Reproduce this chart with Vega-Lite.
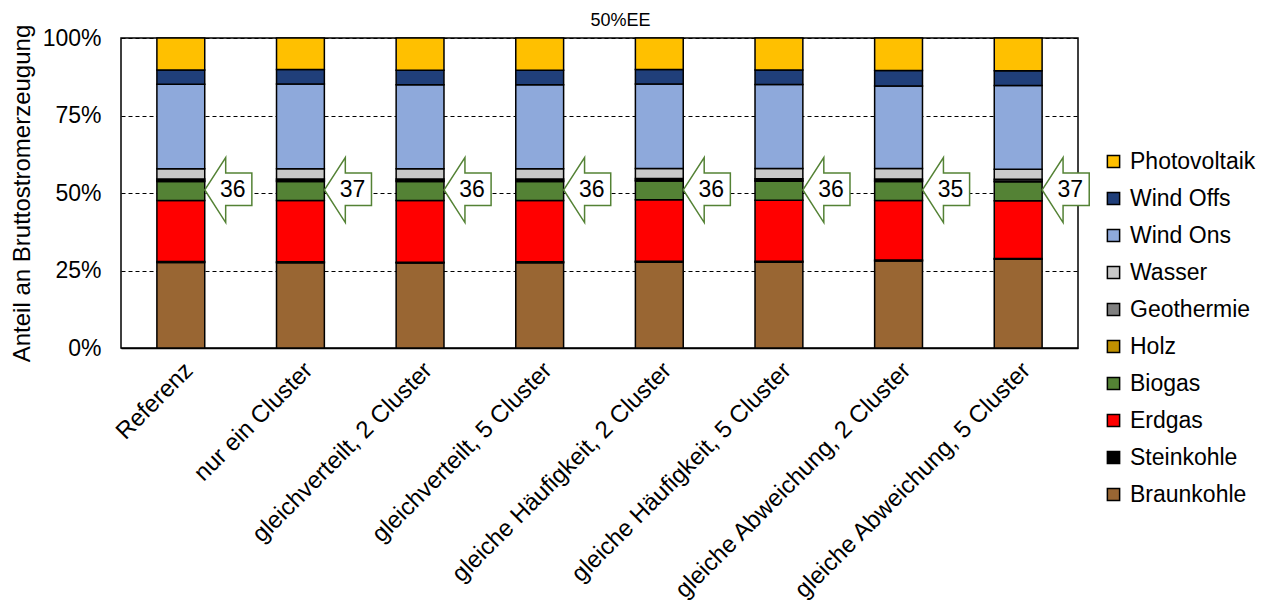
{
  "$schema": "https://vega.github.io/schema/vega-lite/v6.json",
  "width": 957,
  "height": 310,
  "autosize": {"type": "none"},
  "padding": {"left": 121, "top": 38, "right": 193, "bottom": 264},
  "background": "#ffffff",
  "title": {"text": "50%EE", "fontSize": 18, "fontWeight": "normal", "font": "Liberation Sans", "color": "#000000", "offset": 0, "dy": 6, "dx": 21},
  "config": {
    "view": {"stroke": "#000000", "strokeWidth": 1.5},
    "font": "Liberation Sans"
  },
  "datasets": {
    "mix": [
      {"szenario": "Referenz", "traeger": "Braunkohle", "anteil": 27.6, "rang": 1},
      {"szenario": "Referenz", "traeger": "Steinkohle", "anteil": 0.3, "rang": 2},
      {"szenario": "Referenz", "traeger": "Erdgas", "anteil": 19.7, "rang": 3},
      {"szenario": "Referenz", "traeger": "Biogas", "anteil": 6.1, "rang": 4},
      {"szenario": "Referenz", "traeger": "Holz", "anteil": 0.3, "rang": 5},
      {"szenario": "Referenz", "traeger": "Geothermie", "anteil": 0.5, "rang": 6},
      {"szenario": "Referenz", "traeger": "Wasser", "anteil": 3.3, "rang": 7},
      {"szenario": "Referenz", "traeger": "Wind Ons", "anteil": 27.3, "rang": 8},
      {"szenario": "Referenz", "traeger": "Wind Offs", "anteil": 4.6, "rang": 9},
      {"szenario": "Referenz", "traeger": "Photovoltaik", "anteil": 10.3, "rang": 10},

      {"szenario": "nur ein Cluster", "traeger": "Braunkohle", "anteil": 27.5, "rang": 1},
      {"szenario": "nur ein Cluster", "traeger": "Steinkohle", "anteil": 0.3, "rang": 2},
      {"szenario": "nur ein Cluster", "traeger": "Erdgas", "anteil": 19.8, "rang": 3},
      {"szenario": "nur ein Cluster", "traeger": "Biogas", "anteil": 6.1, "rang": 4},
      {"szenario": "nur ein Cluster", "traeger": "Holz", "anteil": 0.3, "rang": 5},
      {"szenario": "nur ein Cluster", "traeger": "Geothermie", "anteil": 0.5, "rang": 6},
      {"szenario": "nur ein Cluster", "traeger": "Wasser", "anteil": 3.3, "rang": 7},
      {"szenario": "nur ein Cluster", "traeger": "Wind Ons", "anteil": 27.4, "rang": 8},
      {"szenario": "nur ein Cluster", "traeger": "Wind Offs", "anteil": 4.6, "rang": 9},
      {"szenario": "nur ein Cluster", "traeger": "Photovoltaik", "anteil": 10.2, "rang": 10},

      {"szenario": "gleichverteilt, 2 Cluster", "traeger": "Braunkohle", "anteil": 27.4, "rang": 1},
      {"szenario": "gleichverteilt, 2 Cluster", "traeger": "Steinkohle", "anteil": 0.3, "rang": 2},
      {"szenario": "gleichverteilt, 2 Cluster", "traeger": "Erdgas", "anteil": 19.9, "rang": 3},
      {"szenario": "gleichverteilt, 2 Cluster", "traeger": "Biogas", "anteil": 6.1, "rang": 4},
      {"szenario": "gleichverteilt, 2 Cluster", "traeger": "Holz", "anteil": 0.3, "rang": 5},
      {"szenario": "gleichverteilt, 2 Cluster", "traeger": "Geothermie", "anteil": 0.5, "rang": 6},
      {"szenario": "gleichverteilt, 2 Cluster", "traeger": "Wasser", "anteil": 3.3, "rang": 7},
      {"szenario": "gleichverteilt, 2 Cluster", "traeger": "Wind Ons", "anteil": 27.1, "rang": 8},
      {"szenario": "gleichverteilt, 2 Cluster", "traeger": "Wind Offs", "anteil": 4.7, "rang": 9},
      {"szenario": "gleichverteilt, 2 Cluster", "traeger": "Photovoltaik", "anteil": 10.4, "rang": 10},

      {"szenario": "gleichverteilt, 5 Cluster", "traeger": "Braunkohle", "anteil": 27.5, "rang": 1},
      {"szenario": "gleichverteilt, 5 Cluster", "traeger": "Steinkohle", "anteil": 0.3, "rang": 2},
      {"szenario": "gleichverteilt, 5 Cluster", "traeger": "Erdgas", "anteil": 19.8, "rang": 3},
      {"szenario": "gleichverteilt, 5 Cluster", "traeger": "Biogas", "anteil": 6.1, "rang": 4},
      {"szenario": "gleichverteilt, 5 Cluster", "traeger": "Holz", "anteil": 0.3, "rang": 5},
      {"szenario": "gleichverteilt, 5 Cluster", "traeger": "Geothermie", "anteil": 0.5, "rang": 6},
      {"szenario": "gleichverteilt, 5 Cluster", "traeger": "Wasser", "anteil": 3.3, "rang": 7},
      {"szenario": "gleichverteilt, 5 Cluster", "traeger": "Wind Ons", "anteil": 27.1, "rang": 8},
      {"szenario": "gleichverteilt, 5 Cluster", "traeger": "Wind Offs", "anteil": 4.7, "rang": 9},
      {"szenario": "gleichverteilt, 5 Cluster", "traeger": "Photovoltaik", "anteil": 10.4, "rang": 10},

      {"szenario": "gleiche Häufigkeit, 2 Cluster", "traeger": "Braunkohle", "anteil": 27.7, "rang": 1},
      {"szenario": "gleiche Häufigkeit, 2 Cluster", "traeger": "Steinkohle", "anteil": 0.3, "rang": 2},
      {"szenario": "gleiche Häufigkeit, 2 Cluster", "traeger": "Erdgas", "anteil": 19.8, "rang": 3},
      {"szenario": "gleiche Häufigkeit, 2 Cluster", "traeger": "Biogas", "anteil": 6.1, "rang": 4},
      {"szenario": "gleiche Häufigkeit, 2 Cluster", "traeger": "Holz", "anteil": 0.3, "rang": 5},
      {"szenario": "gleiche Häufigkeit, 2 Cluster", "traeger": "Geothermie", "anteil": 0.5, "rang": 6},
      {"szenario": "gleiche Häufigkeit, 2 Cluster", "traeger": "Wasser", "anteil": 3.2, "rang": 7},
      {"szenario": "gleiche Häufigkeit, 2 Cluster", "traeger": "Wind Ons", "anteil": 27.3, "rang": 8},
      {"szenario": "gleiche Häufigkeit, 2 Cluster", "traeger": "Wind Offs", "anteil": 4.6, "rang": 9},
      {"szenario": "gleiche Häufigkeit, 2 Cluster", "traeger": "Photovoltaik", "anteil": 10.2, "rang": 10},

      {"szenario": "gleiche Häufigkeit, 5 Cluster", "traeger": "Braunkohle", "anteil": 27.7, "rang": 1},
      {"szenario": "gleiche Häufigkeit, 5 Cluster", "traeger": "Steinkohle", "anteil": 0.3, "rang": 2},
      {"szenario": "gleiche Häufigkeit, 5 Cluster", "traeger": "Erdgas", "anteil": 19.7, "rang": 3},
      {"szenario": "gleiche Häufigkeit, 5 Cluster", "traeger": "Biogas", "anteil": 6.1, "rang": 4},
      {"szenario": "gleiche Häufigkeit, 5 Cluster", "traeger": "Holz", "anteil": 0.3, "rang": 5},
      {"szenario": "gleiche Häufigkeit, 5 Cluster", "traeger": "Geothermie", "anteil": 0.5, "rang": 6},
      {"szenario": "gleiche Häufigkeit, 5 Cluster", "traeger": "Wasser", "anteil": 3.3, "rang": 7},
      {"szenario": "gleiche Häufigkeit, 5 Cluster", "traeger": "Wind Ons", "anteil": 27.1, "rang": 8},
      {"szenario": "gleiche Häufigkeit, 5 Cluster", "traeger": "Wind Offs", "anteil": 4.7, "rang": 9},
      {"szenario": "gleiche Häufigkeit, 5 Cluster", "traeger": "Photovoltaik", "anteil": 10.3, "rang": 10},

      {"szenario": "gleiche Abweichung, 2 Cluster", "traeger": "Braunkohle", "anteil": 28.1, "rang": 1},
      {"szenario": "gleiche Abweichung, 2 Cluster", "traeger": "Steinkohle", "anteil": 0.3, "rang": 2},
      {"szenario": "gleiche Abweichung, 2 Cluster", "traeger": "Erdgas", "anteil": 19.2, "rang": 3},
      {"szenario": "gleiche Abweichung, 2 Cluster", "traeger": "Biogas", "anteil": 6.1, "rang": 4},
      {"szenario": "gleiche Abweichung, 2 Cluster", "traeger": "Holz", "anteil": 0.3, "rang": 5},
      {"szenario": "gleiche Abweichung, 2 Cluster", "traeger": "Geothermie", "anteil": 0.5, "rang": 6},
      {"szenario": "gleiche Abweichung, 2 Cluster", "traeger": "Wasser", "anteil": 3.4, "rang": 7},
      {"szenario": "gleiche Abweichung, 2 Cluster", "traeger": "Wind Ons", "anteil": 26.6, "rang": 8},
      {"szenario": "gleiche Abweichung, 2 Cluster", "traeger": "Wind Offs", "anteil": 5.0, "rang": 9},
      {"szenario": "gleiche Abweichung, 2 Cluster", "traeger": "Photovoltaik", "anteil": 10.5, "rang": 10},

      {"szenario": "gleiche Abweichung, 5 Cluster", "traeger": "Braunkohle", "anteil": 28.6, "rang": 1},
      {"szenario": "gleiche Abweichung, 5 Cluster", "traeger": "Steinkohle", "anteil": 0.3, "rang": 2},
      {"szenario": "gleiche Abweichung, 5 Cluster", "traeger": "Erdgas", "anteil": 18.6, "rang": 3},
      {"szenario": "gleiche Abweichung, 5 Cluster", "traeger": "Biogas", "anteil": 6.1, "rang": 4},
      {"szenario": "gleiche Abweichung, 5 Cluster", "traeger": "Holz", "anteil": 0.3, "rang": 5},
      {"szenario": "gleiche Abweichung, 5 Cluster", "traeger": "Geothermie", "anteil": 0.5, "rang": 6},
      {"szenario": "gleiche Abweichung, 5 Cluster", "traeger": "Wasser", "anteil": 3.3, "rang": 7},
      {"szenario": "gleiche Abweichung, 5 Cluster", "traeger": "Wind Ons", "anteil": 27.0, "rang": 8},
      {"szenario": "gleiche Abweichung, 5 Cluster", "traeger": "Wind Offs", "anteil": 4.7, "rang": 9},
      {"szenario": "gleiche Abweichung, 5 Cluster", "traeger": "Photovoltaik", "anteil": 10.6, "rang": 10}
    ],
    "pfeile": [
      {"szenario": "Referenz", "wert": 36},
      {"szenario": "nur ein Cluster", "wert": 37},
      {"szenario": "gleichverteilt, 2 Cluster", "wert": 36},
      {"szenario": "gleichverteilt, 5 Cluster", "wert": 36},
      {"szenario": "gleiche Häufigkeit, 2 Cluster", "wert": 36},
      {"szenario": "gleiche Häufigkeit, 5 Cluster", "wert": 36},
      {"szenario": "gleiche Abweichung, 2 Cluster", "wert": 35},
      {"szenario": "gleiche Abweichung, 5 Cluster", "wert": 37}
    ]
  },
  "layer": [
    {
      "data": {"name": "mix"},
      "mark": {"type": "bar", "stroke": "#000000", "strokeWidth": 1.5},
      "encoding": {
        "x": {
          "field": "szenario", "type": "nominal",
          "sort": ["Referenz", "nur ein Cluster", "gleichverteilt, 2 Cluster", "gleichverteilt, 5 Cluster", "gleiche Häufigkeit, 2 Cluster", "gleiche Häufigkeit, 5 Cluster", "gleiche Abweichung, 2 Cluster", "gleiche Abweichung, 5 Cluster"],
          "scale": {"paddingInner": 0.6, "paddingOuter": 0.3},
          "axis": {"title": null, "labelAngle": -45, "labelFontSize": 24, "labelColor": "#000000", "ticks": false, "domainColor": "#000000", "domainWidth": 1.5, "labelPadding": 10, "labelLimit": 500, "labelFont": "Liberation Sans"}
        },
        "y": {
          "field": "anteil", "type": "quantitative", "stack": "zero",
          "scale": {"domain": [0, 100], "nice": false},
          "axis": {
            "title": "Anteil an Bruttostromerzeugung",
            "values": [0, 12.5, 25, 37.5, 50, 62.5, 75, 87.5, 100],
            "labelExpr": "datum.value % 25 == 0 ? datum.value + '%' : ''",
            "gridDash": [4, 3], "gridColor": "#000000", "gridWidth": 1, "gridOpacity": 1,
            "domain": false, "ticks": false,
            "labelFontSize": 23, "labelColor": "#000000", "labelPadding": 20, "labelFont": "Liberation Sans",
            "titleFontSize": 24, "titleFontWeight": "normal", "titleColor": "#000000", "titlePadding": 8, "titleFont": "Liberation Sans"
          }
        },
        "color": {
          "field": "traeger", "type": "nominal",
          "scale": {
            "domain": ["Photovoltaik", "Wind Offs", "Wind Ons", "Wasser", "Geothermie", "Holz", "Biogas", "Erdgas", "Steinkohle", "Braunkohle"],
            "range": ["#FFC000", "#203F7A", "#8EA9DB", "#C9C9C9", "#808080", "#BF9000", "#548235", "#FF0000", "#000000", "#996633"]
          },
          "legend": {
            "title": null, "orient": "none", "legendX": 981, "legendY": 112,
            "symbolType": "square", "symbolSize": 150, "symbolStrokeColor": "#000000", "symbolStrokeWidth": 1.5,
            "labelFontSize": 23, "labelColor": "#000000", "labelFont": "Liberation Sans", "rowPadding": 13, "labelOffset": 5
          }
        },
        "order": {"field": "rang", "type": "quantitative", "sort": "ascending"}
      }
    },
    {
      "data": {"name": "pfeile"},
      "mark": {"type": "point", "shape": "M1,0L1.87,-1.35L1.87,-0.7L2.96,-0.7L2.96,0.65L1.87,0.65L1.87,1.36Z", "size": 2304, "filled": true, "fill": "#ffffff", "stroke": "#548235", "strokeWidth": 1.5, "opacity": 1, "fillOpacity": 1, "strokeOpacity": 1},
      "encoding": {
        "x": {"field": "szenario", "type": "nominal", "sort": ["Referenz", "nur ein Cluster", "gleichverteilt, 2 Cluster", "gleichverteilt, 5 Cluster", "gleiche Häufigkeit, 2 Cluster", "gleiche Häufigkeit, 5 Cluster", "gleiche Abweichung, 2 Cluster", "gleiche Abweichung, 5 Cluster"]},
        "y": {"datum": 51}
      }
    },
    {
      "data": {"name": "pfeile"},
      "mark": {"type": "text", "dx": 52, "fontSize": 23, "color": "#000000", "font": "Liberation Sans", "align": "center", "baseline": "middle"},
      "encoding": {
        "x": {"field": "szenario", "type": "nominal", "sort": ["Referenz", "nur ein Cluster", "gleichverteilt, 2 Cluster", "gleichverteilt, 5 Cluster", "gleiche Häufigkeit, 2 Cluster", "gleiche Häufigkeit, 5 Cluster", "gleiche Abweichung, 2 Cluster", "gleiche Abweichung, 5 Cluster"]},
        "y": {"datum": 51},
        "text": {"field": "wert", "type": "quantitative"}
      }
    }
  ]
}
